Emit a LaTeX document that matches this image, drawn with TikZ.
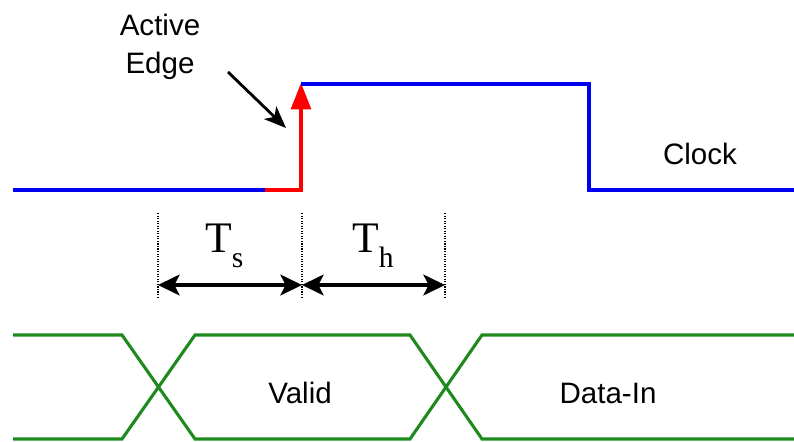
\documentclass[tikz,border=0pt]{standalone}
\usepackage{fontspec}
\setmainfont{Liberation Sans}
\newfontfamily\timesfont{Liberation Serif}
\usetikzlibrary{arrows.meta}
\definecolor{clockblue}{HTML}{0000F0}
\definecolor{edgered}{HTML}{FF0000}
\definecolor{datagreen}{HTML}{1E8A1E}
\tikzset{
  sigtext/.style={font=\fontsize{21}{27}\selectfont,align=center,inner sep=0pt},
  clockwave/.style={draw=clockblue,line width=2.2pt},
  edgewave/.style={draw=edgered,line width=2.2pt,-{Triangle[length=6.6mm,width=5mm]}},
  datawave/.style={draw=datagreen,line width=2.2pt},
  pointer/.style={-{Stealth[length=5.5mm,width=4.4mm,inset=1.5mm]},line width=2pt},
  dimline/.style={{Stealth[length=5.4mm,width=5.2mm,inset=1.3mm]}-{Stealth[length=5.4mm,width=5.2mm,inset=1.3mm]},line width=2.2pt},
  guide/.style={densely dotted,line width=0.8pt},
  tname/.style={anchor=base west,inner sep=0pt},
}
\newcommand\Tsub[1]{{\timesfont\fontsize{31}{31}\selectfont T\raisebox{-0.38cm}{\fontsize{21}{21}\selectfont #1}}}

\begin{document}
\begin{tikzpicture}[x=0.025cm,y=-0.025cm]
    \useasboundingbox (0,0) rectangle (794,441);
    % clock
    \draw[clockwave] (13,190) -- (265,190);
    \draw[edgewave] (265,190) -- (301,190) -- (301,83);
    \draw[clockwave] (301,84) -- (589,84) -- (589,190) -- (794,190);
    \node[sigtext] (clock) at (700,154) {Clock};
    \node[sigtext] (active) at (160,47) {Active\\Edge};
    \coordinate (ptrfrom) at (228,72);
    \coordinate (ptrto) at (286,128);
    \draw[pointer] (ptrfrom) -- (ptrto);
    % setup / hold
    \coordinate (g1) at (158,213);\coordinate (g1b) at (158,298);
    \coordinate (g2) at (302,213);\coordinate (g2b) at (302,298);
    \coordinate (g3) at (445,213);\coordinate (g3b) at (445,298);
    \draw[guide] (g1)--(g1b);\draw[guide] (g2)--(g2b);\draw[guide] (g3)--(g3b);
    \coordinate (d1) at (158,285);\coordinate (d2) at (302,285);\coordinate (d3) at (445,285);
    \draw[dimline] (d1)--(d2);\draw[dimline] (d2)--(d3);
    \node[tname] (ts) at (205,252) {\Tsub{s}};
    \node[tname] (th) at (352,252) {\Tsub{h}};
    % data
    \draw[datawave] (13,335) -- (122,335) -- (195,439) -- (410,439) -- (482,335) -- (794,335);
    \draw[datawave] (13,439) -- (122,439) -- (195,335) -- (410,335) -- (482,439) -- (794,439);
    \node[sigtext] (valid) at (300,393) {Valid};
    \node[sigtext] (datain) at (608,393) {Data-In};
  \end{tikzpicture}
\end{document}
